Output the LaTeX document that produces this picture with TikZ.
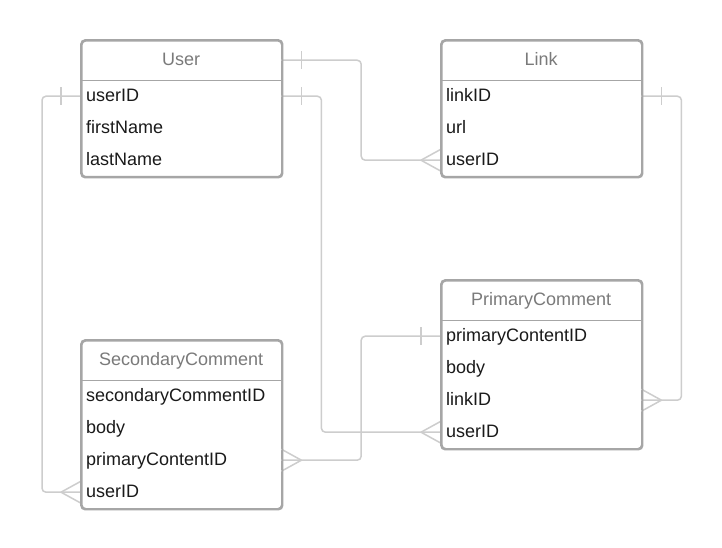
\documentclass[tikz,border=0pt]{standalone}
\usepackage{fontspec}
\setmainfont{Liberation Sans}
\usetikzlibrary{calc}
\definecolor{boxc}{HTML}{A6A6A6}
\definecolor{connc}{HTML}{CDCDCD}
\definecolor{hdrc}{HTML}{7A7A7A}
\definecolor{txtc}{HTML}{1A1A1A}
\newcommand{\erfont}{\fontsize{18}{21}\selectfont}
\begin{document}
\begin{tikzpicture}[x=1pt,y=-1pt,
  tbl/.style={draw=boxc, line width=1.6pt, rounded corners=4pt, fill=white, minimum width=200pt, inner sep=0pt, anchor=north west},
  hdr/.style={minimum width=200pt, minimum height=40pt, inner sep=0pt, anchor=north west, text=hdrc, font=\erfont, text height=13pt, text depth=3pt},
  fld/.style={minimum width=200pt, minimum height=32pt, text width=190pt, inner sep=0pt, align=left, anchor=north west, text=txtc, font=\erfont, text height=13pt, text depth=3pt},
  sepline/.style={draw=boxc, line width=1.6pt},
  conn/.style={draw=connc, line width=1.5pt, rounded corners=4pt},
  crow/.style={draw=connc, line width=1.5pt}
]
\fill[white] (0,0) rectangle (722,548);
\useasboundingbox (0,0) rectangle (722,548);

% ---------- tables ----------
% User
\node[tbl, minimum height=136pt] (user) at (81,40) {};
\node[hdr] (uh) at (81,40) {User};
\node[fld] (uf1) at (81,80) {userID};
\node[fld] (uf2) at (81,112) {firstName};
\node[fld] (uf3) at (81,144) {lastName};
\draw[sepline] (uh.south west) -- (uh.south east);

% Link
\node[tbl, minimum height=136pt] (link) at (441,40) {};
\node[hdr] (lh) at (441,40) {Link};
\node[fld] (lf1) at (441,80) {linkID};
\node[fld] (lf2) at (441,112) {url};
\node[fld] (lf3) at (441,144) {userID};
\draw[sepline] (lh.south west) -- (lh.south east);

% PrimaryComment
\node[tbl, minimum height=168pt] (prim) at (441,280) {};
\node[hdr] (ph) at (441,280) {PrimaryComment};
\node[fld] (pf1) at (441,320) {primaryContentID};
\node[fld] (pf2) at (441,352) {body};
\node[fld] (pf3) at (441,384) {linkID};
\node[fld] (pf4) at (441,416) {userID};
\draw[sepline] (ph.south west) -- (ph.south east);

% SecondaryComment
\node[tbl, minimum height=168pt] (sec) at (81,340) {};
\node[hdr] (sh) at (81,340) {SecondaryComment};
\node[fld] (sf1) at (81,380) {secondaryCommentID};
\node[fld] (sf2) at (81,412) {body};
\node[fld] (sf3) at (81,444) {primaryContentID};
\node[fld] (sf4) at (81,476) {userID};
\draw[sepline] (sh.south west) -- (sh.south east);

% ---------- connectors ----------
% User -> Link.userID
\draw[conn] (uh.east) -| ($(uh.east)!.5!(lf3.west)$) |- (lf3.west);
\draw[crow] ([xshift=20pt]uh.east) ++(0,-9) -- ++(0,18);
\draw[crow] ([xshift=-20pt]lf3.west) -- ([yshift=11pt]lf3.west)
            ([xshift=-20pt]lf3.west) -- ([yshift=-11pt]lf3.west);

% User.userID -> PrimaryComment.userID
\draw[conn] (uf1.east) -- ++(40,0) |- (pf4.west);
\draw[crow] ([xshift=20pt]uf1.east) ++(0,-9) -- ++(0,18);
\draw[crow] ([xshift=-20pt]pf4.west) -- ([yshift=11pt]pf4.west)
            ([xshift=-20pt]pf4.west) -- ([yshift=-11pt]pf4.west);

% User.userID -> SecondaryComment.userID
\draw[conn] (uf1.west) -- ++(-39,0) |- (sf4.west);
\draw[crow] ([xshift=-20pt]uf1.west) ++(0,-9) -- ++(0,18);
\draw[crow] ([xshift=-20pt]sf4.west) -- ([yshift=11pt]sf4.west)
            ([xshift=-20pt]sf4.west) -- ([yshift=-11pt]sf4.west);

% Link.linkID -> PrimaryComment.linkID
\draw[conn] (lf1.east) -- ++(40,0) |- (pf3.east);
\draw[crow] ([xshift=20pt]lf1.east) ++(0,-9) -- ++(0,18);
\draw[crow] ([xshift=20pt]pf3.east) -- ([yshift=11pt]pf3.east)
            ([xshift=20pt]pf3.east) -- ([yshift=-11pt]pf3.east);

% PrimaryComment.primaryContentID -> SecondaryComment.primaryContentID
\draw[conn] (pf1.west) -| ($(pf1.west)!.5!(sf3.east)$) |- (sf3.east);
\draw[crow] ([xshift=-20pt]pf1.west) ++(0,-9) -- ++(0,18);
\draw[crow] ([xshift=20pt]sf3.east) -- ([yshift=11pt]sf3.east)
            ([xshift=20pt]sf3.east) -- ([yshift=-11pt]sf3.east);

% redraw table outlines on top
\draw[boxc, line width=1.6pt, rounded corners=4pt] (user.north west) rectangle (user.south east);
\draw[boxc, line width=1.6pt, rounded corners=4pt] (link.north west) rectangle (link.south east);
\draw[boxc, line width=1.6pt, rounded corners=4pt] (prim.north west) rectangle (prim.south east);
\draw[boxc, line width=1.6pt, rounded corners=4pt] (sec.north west) rectangle (sec.south east);
\end{tikzpicture}
\end{document}
